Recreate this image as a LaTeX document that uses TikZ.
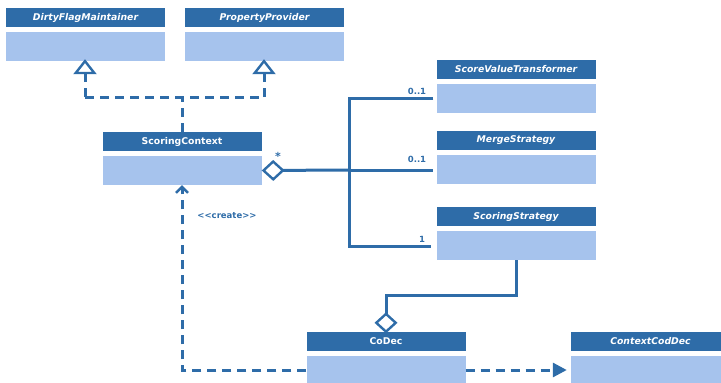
\documentclass[tikz,border=0pt]{standalone}
\usepackage{fontspec}
\setmainfont{DejaVu Sans}
\usetikzlibrary{arrows.meta}
\definecolor{umlhead}{RGB}{46,108,168}
\definecolor{umlbody}{RGB}{166,195,237}
\begin{document}
\begin{tikzpicture}[x=1pt,y=-1pt,font=\fontsize{9.3}{11}\selectfont\bfseries,
  head/.style={fill=umlhead,text=white,minimum width=159pt,minimum height=19pt,inner sep=0pt},
  body/.style={fill=umlbody,minimum width=159pt,minimum height=29pt,inner sep=0pt},
  conn/.style={draw=umlhead,line width=3pt},
  dashline/.style={conn,dash pattern=on 9pt off 6pt},
  mult/.style={text=umlhead,font=\fontsize{8.5}{10}\selectfont\bfseries,inner sep=0pt}]

\useasboundingbox (0,0) rectangle (721,383);

% classes
\node[head] (dfm) at (85.5,17.5) {\itshape DirtyFlagMaintainer};
\node[body] (dfmb) at (85.5,46.5) {};
\node[head] (pp) at (264.5,17.5) {\itshape PropertyProvider};
\node[body] (ppb) at (264.5,46.5) {};
\node[head] (sc) at (182,141.5) {ScoringContext};
\node[body] (scb) at (182,170.5) {};
\node[head] (svt) at (516,69) {\itshape ScoreValueTransformer};
\node[body] (svtb) at (516,98) {};
\node[head] (ms) at (516,140.5) {\itshape MergeStrategy};
\node[body] (msb) at (516,169.5) {};
\node[head] (ss) at (516,216.5) {\itshape ScoringStrategy};
\node[body] (ssb) at (516,245.5) {};
\node[head] (cd) at (386,341) {CoDec};
\node[body] (cdb) at (386,370) {};
\node[head] (ccd) at (650.5,341) {\itshape ContextCodDec};
\node[body] (ccdb) at (650.5,370) {};

% realization
\coordinate (r1) at (85,97);
\coordinate (r2) at (264,97);
\draw[dashline,-{Triangle[open,length=15pt,width=23pt,line width=2.4pt]}] (r1) -- ([yshift=2pt]dfmb.south -| r1);
\draw[dashline,-{Triangle[open,length=15pt,width=23pt,line width=2.4pt]}] (r2) -- ([yshift=2pt]ppb.south -| r2);
\draw[dashline] (r1) -- (r2);
\draw[dashline] (sc.north) -- (sc.north |- r1);

% aggregation of strategies
\coordinate (bus) at (349,170);
\coordinate (bustop) at (349,98);
\coordinate (busbot) at (349,246);
\draw[conn,{Diamond[open,length=23pt,width=21pt,line width=2.4pt]}-] (scb.east) -- (bus);
\draw[conn] ([xshift=-3pt]svtb.west |- bustop) -- (bustop) -- (busbot) -- ([xshift=-5pt]ssb.west |- busbot);
\draw[conn] (bus) -- ([xshift=-3pt]msb.west |- bus);
\node[mult,font=\fontsize{11}{12}\selectfont\bfseries] at (278,156) {*};
\node[mult] at (417,91) {0..1};
\node[mult] at (417,159) {0..1};
\node[mult] at (422,239) {1};

% codec
\coordinate (k) at (386,295);
\draw[conn,{Diamond[open,length=21pt,width=23pt,line width=2.4pt]}-] ([yshift=-2pt]cd.north) -- (k) -| (ssb.south);
\draw[dashline,-{Straight Barb[length=6pt,width=12pt,line width=2.4pt]}] (cdb.west) -| (scb.south);
\node[mult] at (227,216) {<\kern0pt<create>\kern0pt>};
\draw[dashline,-{Triangle[length=14pt,width=14pt]}] (cdb.east) -- ([xshift=-4pt]ccdb.west);

\end{tikzpicture}
\end{document}
